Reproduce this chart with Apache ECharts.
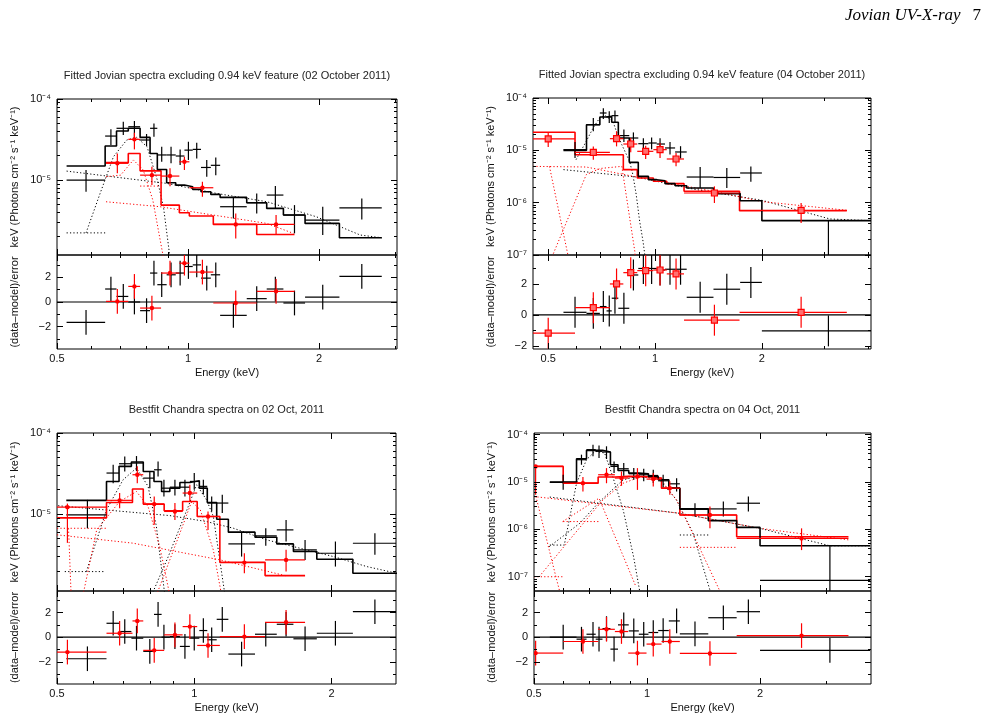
<!DOCTYPE html>
<html>
<head>
<meta charset="utf-8">
<title>Jovian UV-X-ray 7</title>
<script src="https://cdn.jsdelivr.net/npm/echarts@6.0.0/dist/echarts.min.js"></script>
<style>
  html, body { margin: 0; padding: 0; background: #fff; }
  #chart { width: 988px; height: 720px; }
</style>
</head>
<body>
<div id="chart"></div>
<script>
const FONT = '"Liberation Sans", Arial, Helvetica, sans-serif';
const BLACK = '#000000';
const RED = '#ff0000';

// tick positions
const X_MAJOR = [0.5, 1, 2];
const X_MINOR = [0.6, 0.7, 0.8, 0.9, 3, 4];
const R_MAJOR = [-2, 0, 2];
const R_MINOR = [-3, -1, 1, 3];

// ---- panel 1: 02 October 2011, fit excluding 0.94 keV ----
const p1BlackEdges = [0.526, 0.645, 0.685, 0.729, 0.776, 0.818, 0.850, 0.893, 0.937, 0.981, 1.025, 1.071, 1.128, 1.185, 1.364, 1.516, 1.656, 1.857, 2.227, 2.786];
const p1BlackModel = [1.49e-5, 2.63e-5, 4.03e-5, 4.35e-5, 3.36e-5, 2.13e-5, 1.35e-5, 9.27e-6, 8.67e-6, 8.28e-6, 7.67e-6, 7.18e-6, 6.65e-6, 6.11e-6, 5.25e-6, 4.47e-6, 3.7e-6, 2.92e-6, 1.94e-6];
const p1BlackE = [0.583, 0.665, 0.710, 0.753, 0.803, 0.835, 0.870, 0.914, 0.959, 1.002, 1.047, 1.104, 1.158, 1.271, 1.438, 1.587, 1.756, 2.039, 2.507];
const p1BlackFlux = [1.0e-5, 3.49e-5, 4.35e-5, 4.55e-5, 3.12e-5, 4.35e-5, 2.04e-5, 2.04e-5, 1.98e-5, 2.34e-5, 2.39e-5, 1.43e-5, 1.52e-5, 4.69e-6, 5.25e-6, 6.53e-6, 3.7e-6, 3.21e-6, 4.55e-6];
const p1BlackLo = [7.2e-6, 2.7e-5, 3.6e-5, 3.12e-5, 2.63e-5, 3.43e-5, 1.68e-5, 1.61e-5, 1.53e-5, 1.77e-5, 1.85e-5, 1.1e-5, 1.15e-5, 3.36e-6, 3.88e-6, 4.47e-6, 2.2e-6, 2.1e-6, 3.27e-6];
const p1BlackHi = [1.33e-5, 4.22e-5, 5.25e-5, 5.35e-5, 3.7e-5, 5.0e-5, 2.58e-5, 2.58e-5, 2.39e-5, 2.97e-5, 2.89e-5, 1.77e-5, 1.9e-5, 6.22e-6, 6.84e-6, 8.43e-6, 4.91e-6, 4.69e-6, 5.94e-6];
const p1BlackResid = [-1.64, 1.05, 0.45, 0.0, -0.7, 2.34, 1.4, 2.2, 2.34, 2.87, 3.0, 1.93, 2.2, -1.08, 0.27, 1.05, -0.08, 0.4, 2.07];
const p1RedEdges = [0.648, 0.729, 0.776, 0.867, 0.955, 1.007, 1.143, 1.438, 1.756];
const p1RedModel = [1.64e-5, 2.13e-5, 1.3e-5, 4.91e-6, 3.95e-6, 3.6e-6, 2.84e-6, 2.13e-6];
const p1RedE = [0.688, 0.753, 0.826, 0.909, 0.981, 1.079, 1.287, 1.593];
const p1RedFlux = [1.61e-5, 3.18e-5, 1.15e-5, 1.12e-5, 1.68e-5, 8.04e-6, 2.84e-6, 2.84e-6];
const p1RedLo = [1.21e-5, 2.39e-5, 8.67e-6, 8.4e-6, 1.33e-5, 6.22e-6, 1.9e-6, 2.1e-6];
const p1RedHi = [2.13e-5, 3.84e-5, 1.46e-5, 1.4e-5, 1.94e-5, 9.53e-6, 3.88e-6, 3.7e-6];
const p1RedResid = [0.05, 1.26, -0.49, 2.34, 3.14, 2.42, -0.08, 0.86];
const p1BlackCont = [[0.526, 1.29e-5], [0.893, 9.1e-6], [1.163, 6.84e-6], [1.516, 5.41e-6], [1.973, 3.52e-6], [2.485, 2.1e-6], [2.786, 1.94e-6]];
const p1BlackFlat = [[0.526, 2.23e-6], [0.645, 2.23e-6]];
const p1BlackLine = [[0.583, 2.23e-6], [0.628, 6.84e-6], [0.674, 1.94e-5], [0.723, 3.12e-5], [0.762, 3.36e-5], [0.805, 2.58e-5], [0.85, 1.0e-5], [0.878, 4.69e-6], [0.909, 1.1e-6]];
const p1RedCont = [[0.648, 5.4e-6], [0.862, 4.69e-6], [1.143, 3.7e-6], [1.516, 2.92e-6], [1.746, 2.2e-6]];
const p1RedLine = [[0.648, 1.1e-5], [0.70, 1.15e-5], [0.749, 1.77e-5], [0.789, 1.33e-5], [0.83, 5.66e-6], [0.878, 1.1e-6]];
const p1RedFlat = [[0.776, 8.43e-6], [0.862, 8.43e-6]];

// ---- panel 2: 04 October 2011, fit excluding 0.94 keV ----
const p2BlackEdges = [0.552, 0.641, 0.699, 0.730, 0.755, 0.788, 0.846, 0.897, 0.958, 1.011, 1.067, 1.139, 1.228, 1.461, 1.737, 2.0, 4.06];
const p2BlackModel = [1.0e-5, 3.09e-5, 4.34e-5, 4.46e-5, 3.43e-5, 1.72e-5, 5.9e-6, 3.18e-6, 2.75e-6, 2.63e-6, 2.31e-6, 2.11e-6, 1.91e-6, 1.49e-6, 1.09e-6, 4.53e-7];
const p2BlackE = [0.595, 0.670, 0.715, 0.743, 0.771, 0.817, 0.869, 0.927, 0.978, 1.033, 1.102, 1.18, 1.34, 1.593, 1.862, 3.08];
const p2BlackFlux = [1.03e-5, 3.09e-5, 5.17e-5, 4.34e-5, 4.6e-5, 1.91e-5, 1.72e-5, 1.34e-5, 1.38e-5, 1.32e-5, 1.11e-5, 9.3e-6, 3.09e-6, 3.03e-6, 3.69e-6, 5e-8];
const p2BlackLo = [7.1e-6, 2.31e-5, 3.97e-5, 3.33e-5, 3.4e-5, 1.45e-5, 1.3e-5, 1.0e-5, 1.05e-5, 1.0e-5, 8.3e-6, 7.0e-6, 1.9e-6, 1.9e-6, 2.5e-6, 1e-9];
const p2BlackHi = [1.45e-5, 4.15e-5, 6.4e-5, 5.56e-5, 5.8e-5, 2.5e-5, 2.2e-5, 1.7e-5, 1.75e-5, 1.7e-5, 1.45e-5, 1.2e-5, 4.8e-6, 4.6e-6, 4.9e-6, 4.6e-7];
const p2BlackResid = [0.17, 0.1, 0.54, 0.26, 1.08, 0.43, 2.58, 3.0, 3.0, 2.9, 2.95, 2.95, 1.14, 1.66, 2.1, -1.03];
const p2RedEdges = [0.453, 0.595, 0.746, 0.814, 0.891, 0.989, 1.079, 1.207, 1.73, 3.47];
const p2RedModel = [2.21e-5, 8.26e-6, 8.26e-6, 4.27e-6, 2.96e-6, 2.56e-6, 2.31e-6, 1.65e-6, 7.03e-7];
const p2RedE = [0.5, 0.67, 0.779, 0.854, 0.941, 1.033, 1.146, 1.47, 2.58];
const p2RedFlux = [1.65e-5, 9.16e-6, 1.67e-5, 1.32e-5, 9.57e-6, 1.03e-5, 6.83e-6, 1.53e-6, 7.14e-7];
const p2RedLo = [1.16e-5, 6.64e-6, 1.19e-5, 9.16e-6, 6.82e-6, 7.15e-6, 4.94e-6, 9.86e-7, 4.08e-7];
const p2RedHi = [2.14e-5, 1.19e-5, 2.31e-5, 1.72e-5, 1.23e-5, 1.38e-5, 8.9e-6, 2.05e-6, 9.86e-7];
const p2RedResid = [-1.18, 0.47, 2.0, 2.73, 2.86, 2.9, 2.65, -0.34, 0.17];
const p2BlackCont = [[0.552, 4.28e-6], [0.888, 3.09e-6], [1.28, 1.82e-6], [2.0, 1.11e-6], [3.11, 4.88e-7], [4.06, 4.53e-7]];
const p2BlackLine = [[0.599, 6.64e-6], [0.64, 1.49e-5], [0.669, 2.67e-5], [0.698, 4.15e-5], [0.722, 4.67e-5], [0.761, 3.58e-5], [0.778, 2.31e-5], [0.806, 1.28e-5], [0.848, 6.16e-6], [0.866, 3.43e-6], [0.885, 1.42e-6], [0.905, 4.4e-7], [0.925, 1.82e-7], [0.94, 8e-8]];
const p2RedCont = [[0.453, 4.94e-6], [0.64, 4.8e-6], [0.888, 3.09e-6], [1.461, 1.65e-6], [2.0, 1.05e-6], [3.47, 7.15e-7]];
const p2RedSteep = [[0.504, 4.94e-6], [0.568, 1.01e-7], [0.576, 8e-8]];
const p2RedLine = [[0.51, 8e-8], [0.515, 1.0e-7], [0.64, 3.43e-6], [0.70, 4.5e-6], [0.806, 4.94e-6], [0.877, 1.17e-7], [0.88, 8e-8]];

// ---- panel 3: best fit 02 Oct 2011 ----
const p3BlackEdges = [0.524, 0.642, 0.684, 0.728, 0.773, 0.816, 0.848, 0.884, 0.930, 0.978, 1.026, 1.068, 1.12, 1.188, 1.359, 1.517, 1.65, 1.857, 2.228, 2.784];
const p3BlackModel = [1.48e-5, 2.53e-5, 3.88e-5, 4.39e-5, 3.36e-5, 2.53e-5, 1.9e-5, 2.09e-5, 2.46e-5, 2.58e-5, 2.09e-5, 1.39e-5, 8.67e-6, 6.0e-6, 5.2e-6, 4.3e-6, 3.46e-6, 2.78e-6, 1.87e-6];
const p3BlackE = [0.583, 0.664, 0.704, 0.747, 0.799, 0.833, 0.858, 0.907, 0.954, 1.0, 1.047, 1.092, 1.152, 1.27, 1.435, 1.59, 1.75, 2.04, 2.49];
const p3BlackFlux = [9.8e-6, 3.21e-5, 4.18e-5, 4.26e-5, 2.78e-5, 3.52e-5, 2.09e-5, 2.15e-5, 2.15e-5, 2.53e-5, 2.2e-5, 1.37e-5, 1.37e-5, 4.3e-6, 5.4e-6, 6.4e-6, 3.63e-6, 3.3e-6, 4.38e-6];
const p3BlackLo = [6.7e-6, 2.41e-5, 3.36e-5, 3.4e-5, 2.09e-5, 2.92e-5, 1.65e-5, 1.7e-5, 1.65e-5, 2.0e-5, 1.75e-5, 1.08e-5, 1.03e-5, 3.0e-6, 4.07e-6, 4.6e-6, 2.73e-6, 2.26e-6, 3.15e-6];
const p3BlackHi = [1.5e-5, 4.06e-5, 5.15e-5, 5.2e-5, 3.36e-5, 4.47e-5, 2.65e-5, 2.65e-5, 2.65e-5, 3.21e-5, 2.65e-5, 1.65e-5, 1.73e-5, 6.1e-6, 6.7e-6, 8.5e-6, 4.82e-6, 4.6e-6, 5.8e-6];
const p3BlackResid = [-1.75, 1.13, 0.46, -0.08, -1.15, 1.85, 0.0, 0.05, -0.75, -0.08, 0.54, -0.21, 1.45, -1.37, 0.24, 1.05, -0.13, 0.32, 2.07];
const p3RedEdges = [0.5, 0.642, 0.732, 0.773, 0.859, 0.943, 1.015, 1.138, 1.43, 1.75];
const p3RedModel = [9.0e-6, 1.39e-5, 2.04e-5, 1.33e-5, 1.1e-5, 1.43e-5, 9.36e-6, 2.55e-6, 1.75e-6];
const p3RedE = [0.527, 0.686, 0.75, 0.817, 0.907, 0.978, 1.072, 1.288, 1.59];
const p3RedFlux = [1.22e-5, 1.48e-5, 3.06e-5, 1.33e-5, 1.08e-5, 1.82e-5, 9.36e-6, 2.53e-6, 2.73e-6];
const p3RedLo = [4.43e-6, 1.18e-5, 2.4e-5, 7.4e-6, 8.5e-6, 1.43e-5, 6.4e-6, 1.87e-6, 1.96e-6];
const p3RedHi = [1.35e-5, 1.82e-5, 3.9e-5, 1.65e-5, 1.37e-5, 2.3e-5, 1.08e-5, 3.3e-6, 3.63e-6];
const p3RedResid = [-1.21, 0.32, 1.32, -1.07, 0.19, 0.86, -0.67, 0.05, 1.21];
const p3BlackCont = [[0.503, 1.27e-5], [0.884, 9.6e-6], [1.064, 8.1e-6], [1.218, 6.71e-6], [1.442, 4.82e-6], [1.648, 3.99e-6], [2.02, 3.0e-6], [2.39, 2.26e-6], [2.78, 1.87e-6]];
const p3BlackFlat = [[0.52, 1.96e-6], [0.637, 1.96e-6]];
const p3BlackLine1 = [[0.58, 1.96e-6], [0.642, 1.13e-5], [0.698, 2.65e-5], [0.747, 3.7e-5], [0.792, 2.2e-5], [0.826, 7.05e-6], [0.862, 1.0e-6]];
const p3BlackLine2 = [[0.806, 1.0e-6], [0.877, 3.0e-6], [0.97, 1.24e-5], [1.012, 2.3e-5], [1.064, 1.5e-5], [1.101, 9.4e-6], [1.168, 1.0e-6]];
const p3RedCont = [[0.5, 5.56e-6], [0.734, 4.39e-6], [1.14, 2.73e-6], [1.595, 1.73e-6]];
const p3RedFlat = [[0.5, 6.7e-6], [0.64, 6.7e-6]];
const p3RedSteep = [[0.53, 6.7e-6], [0.537, 1.0e-6]];
const p3RedLine1 = [[0.57, 1.0e-6], [0.611, 6.41e-6], [0.686, 1.43e-5], [0.747, 1.9e-5], [0.792, 1.24e-5], [0.84, 3.99e-6], [0.884, 1.0e-6]];
const p3RedLine2 = [[0.826, 1.0e-6], [0.93, 5.82e-6], [0.987, 1.43e-5], [1.031, 1.13e-5], [1.101, 3.63e-6], [1.148, 1.0e-6]];

// ---- panel 4: best fit 04 Oct 2011 ----
const p4BlackEdges = [0.551, 0.649, 0.690, 0.730, 0.761, 0.799, 0.837, 0.894, 0.951, 1.009, 1.071, 1.143, 1.223, 1.456, 1.733, 2.0, 3.93];
const p4BlackModel = [9.9e-6, 3.1e-5, 4.65e-5, 4.65e-5, 4.29e-5, 2.31e-5, 1.75e-5, 1.54e-5, 1.49e-5, 1.31e-5, 1.11e-5, 7.4e-6, 2.7e-6, 1.53e-6, 1.1e-6, 4.5e-7];
const p4BlackE = [0.598, 0.669, 0.718, 0.745, 0.78, 0.817, 0.867, 0.922, 0.98, 1.039, 1.104, 1.199, 1.342, 1.597, 1.862, 3.07];
const p4BlackFlux = [9.8e-6, 2.95e-5, 4.81e-5, 4.43e-5, 4.29e-5, 2.13e-5, 1.9e-5, 1.49e-5, 1.42e-5, 1.37e-5, 1.06e-5, 9.14e-6, 2.65e-6, 2.7e-6, 3.56e-6, 8.4e-8];
const p4BlackLo = [6.82e-6, 2.31e-5, 3.47e-5, 3.2e-5, 3.05e-5, 1.54e-5, 1.35e-5, 1.11e-5, 1.03e-5, 9.5e-6, 7.76e-6, 6.3e-6, 1.86e-6, 1.86e-6, 2.37e-6, 1e-9];
const p4BlackHi = [1.42e-5, 3.77e-5, 6.13e-5, 5.85e-5, 5.66e-5, 2.72e-5, 2.51e-5, 1.96e-5, 1.9e-5, 1.81e-5, 1.42e-5, 1.2e-5, 3.56e-6, 3.86e-6, 4.93e-6, 4.5e-7];
const p4BlackResid = [0.0, -0.16, 0.24, -0.16, 0.7, -0.97, 1.0, 0.51, 0.24, 0.38, 0.54, 1.32, 0.27, 1.58, 2.07, -1.07];
const p4RedEdges = [0.5, 0.598, 0.741, 0.821, 0.891, 0.997, 1.093, 1.223, 1.733, 3.44];
const p4RedModel = [2.13e-5, 9.45e-6, 1.27e-5, 1.31e-5, 1.29e-5, 1.21e-5, 7.4e-6, 2.01e-6, 7.0e-7];
const p4RedE = [0.505, 0.675, 0.78, 0.855, 0.943, 1.039, 1.15, 1.471, 2.58];
const p4RedFlux = [2.13e-5, 9.45e-6, 1.42e-5, 1.21e-5, 1.31e-5, 1.15e-5, 7.4e-6, 2.01e-6, 6.45e-7];
const p4RedLo = [5.35e-6, 6.3e-6, 9.4e-6, 8.3e-6, 6.8e-6, 8.0e-6, 5.35e-6, 1.05e-6, 3.65e-7];
const p4RedHi = [2.25e-5, 1.27e-5, 1.96e-5, 1.67e-5, 1.96e-5, 1.54e-5, 1.03e-5, 3.02e-6, 1.05e-6];
const p4RedResid = [-1.29, -0.35, 0.64, 0.46, -1.29, -0.56, -0.35, -1.32, 0.13];
const p4BlackCont = [[0.551, 4.8e-6], [1.222, 2.18e-6], [2.0, 1.05e-6], [3.07, 4.5e-7], [3.93, 4.5e-7]];
const p4BlackFlat = [[1.223, 7.6e-7], [1.471, 7.6e-7]];
const p4BlackLine1 = [[0.551, 4.66e-7], [0.602, 4.66e-7], [0.649, 9.4e-6], [0.690, 2.95e-5], [0.727, 4.44e-5], [0.771, 4.09e-5], [0.81, 1.31e-5], [0.864, 2.57e-6], [0.921, 2.63e-7], [0.956, 5e-8]];
const p4BlackLine2 = [[0.549, 4.3e-7], [0.662, 1.34e-6], [0.748, 3.86e-6], [0.864, 1.11e-5], [0.955, 1.35e-5], [1.081, 1.11e-5], [1.198, 4.19e-6], [1.327, 8.2e-7], [1.471, 5.2e-8]];
const p4RedCont = [[0.5, 4.93e-6], [1.222, 2.18e-6], [2.0, 1.05e-6], [3.44, 6.0e-7]];
const p4RedSteep = [[0.506, 4.93e-6], [0.572, 9.9e-8], [0.585, 5e-8]];
const p4RedLine1 = [[0.596, 1.46e-6], [0.745, 4.54e-6], [0.935, 6.1e-8]];
const p4RedLine2 = [[0.516, 1e-7], [0.621, 5.94e-7], [0.763, 4.19e-6], [0.864, 9.4e-6], [0.955, 1.26e-5], [1.081, 1.2e-5], [1.198, 4.19e-6], [1.35, 5.94e-7], [1.563, 5e-8]];
const p4RedFlat1 = [[0.5, 1e-7], [0.598, 1e-7]];
const p4RedFlat2 = [[0.598, 1.46e-6], [0.745, 1.46e-6]];
const p4RedFlat3 = [[1.223, 4.17e-7], [1.733, 4.17e-7]];

const panels = [
  {
    title: 'Fitted Jovian spectra excluding 0.94 keV feature (02 October 2011)',
    box: { left: 57, top: 99, width: 340, specH: 156, resH: 94 },
    x: [0.5, 3.02], y: [1.19e-6, 1e-4], r: [-3.8, 3.8], redMarker: 'circle',
    black: { edges: p1BlackEdges, model: p1BlackModel, e: p1BlackE, flux: p1BlackFlux, lo: p1BlackLo, hi: p1BlackHi, resid: p1BlackResid },
    red: { edges: p1RedEdges, model: p1RedModel, e: p1RedE, flux: p1RedFlux, lo: p1RedLo, hi: p1RedHi, resid: p1RedResid },
    comps: [[p1BlackCont, BLACK], [p1BlackFlat, BLACK], [p1BlackLine, BLACK], [p1RedCont, RED], [p1RedLine, RED], [p1RedFlat, RED]]
  },
  {
    title: 'Fitted Jovian spectra excluding 0.94 keV feature (04 October 2011)',
    box: { left: 533, top: 98, width: 338, specH: 157, resH: 94 },
    x: [0.453, 4.06], y: [1e-7, 1e-4], r: [-2.2, 3.87], redMarker: 'square',
    black: { edges: p2BlackEdges, model: p2BlackModel, e: p2BlackE, flux: p2BlackFlux, lo: p2BlackLo, hi: p2BlackHi, resid: p2BlackResid },
    red: { edges: p2RedEdges, model: p2RedModel, e: p2RedE, flux: p2RedFlux, lo: p2RedLo, hi: p2RedHi, resid: p2RedResid },
    comps: [[p2BlackCont, BLACK], [p2BlackLine, BLACK], [p2RedCont, RED], [p2RedSteep, RED], [p2RedLine, RED]]
  },
  {
    title: 'Bestfit Chandra spectra on 02 Oct, 2011',
    box: { left: 57, top: 433, width: 339, specH: 158, resH: 93 },
    x: [0.5, 2.77], y: [1.13e-6, 1e-4], r: [-3.8, 3.75], redMarker: 'circle',
    black: { edges: p3BlackEdges, model: p3BlackModel, e: p3BlackE, flux: p3BlackFlux, lo: p3BlackLo, hi: p3BlackHi, resid: p3BlackResid },
    red: { edges: p3RedEdges, model: p3RedModel, e: p3RedE, flux: p3RedFlux, lo: p3RedLo, hi: p3RedHi, resid: p3RedResid },
    comps: [[p3BlackCont, BLACK], [p3BlackFlat, BLACK], [p3BlackLine1, BLACK], [p3BlackLine2, BLACK], [p3RedCont, RED], [p3RedFlat, RED], [p3RedSteep, RED], [p3RedLine1, RED], [p3RedLine2, RED]]
  },
  {
    title: 'Bestfit Chandra spectra on 04 Oct, 2011',
    box: { left: 534, top: 433, width: 337, specH: 158, resH: 93 },
    x: [0.5, 3.95], y: [5e-8, 1.08e-4], r: [-3.8, 3.75], redMarker: 'circle',
    black: { edges: p4BlackEdges, model: p4BlackModel, e: p4BlackE, flux: p4BlackFlux, lo: p4BlackLo, hi: p4BlackHi, resid: p4BlackResid },
    red: { edges: p4RedEdges, model: p4RedModel, e: p4RedE, flux: p4RedFlux, lo: p4RedLo, hi: p4RedHi, resid: p4RedResid },
    comps: [[p4BlackCont, BLACK], [p4BlackFlat, BLACK], [p4BlackLine1, BLACK], [p4BlackLine2, BLACK], [p4RedCont, RED], [p4RedSteep, RED], [p4RedLine1, RED], [p4RedLine2, RED], [p4RedFlat1, RED], [p4RedFlat2, RED], [p4RedFlat3, RED]]
  }
];

const SUP = { '-': '\u207B', '0': '\u2070', '1': '\u00B9', '2': '\u00B2', '3': '\u00B3', '4': '\u2074', '5': '\u2075', '6': '\u2076', '7': '\u2077', '8': '\u2078', '9': '\u2079' };
function powLabel(v) {
  const e = Math.round(Math.log10(v));
  return '10' + String(e).split('').map(function (c) { return SUP[c]; }).join('');
}
function decadesIn(r) {
  const out = [];
  for (let d = Math.ceil(Math.log10(r[0]) - 1e-9); d <= Math.floor(Math.log10(r[1]) + 1e-9); d++) out.push(parseFloat('1e' + d));
  return out;
}
function logMinorsIn(r) {
  const out = [];
  for (let d = Math.floor(Math.log10(r[0])); d < Math.ceil(Math.log10(r[1])); d++) {
    for (let m = 2; m <= 9; m++) {
      const v = parseFloat(m + 'e' + d);
      if (v > r[0] && v < r[1]) out.push(v);
    }
  }
  return out;
}

const grids = [], xAxes = [], yAxes = [], series = [];

function addAxis(list, o) {
  const ax = {
    type: o.type, gridIndex: o.grid, position: o.pos, min: o.range[0], max: o.range[1],
    axisLine: { show: false, onZero: false },
    axisTick: { show: true, inside: true, length: o.len, customValues: o.ticks, lineStyle: { color: '#000', width: 1 } },
    axisLabel: { show: false },
    splitLine: { show: false },
    minorTick: { show: false },
    z: 5
  };
  if (o.type === 'log') ax.logBase = o.base;
  if (o.labels) {
    ax.axisLabel = { show: true, customValues: o.labels, formatter: o.fmt, color: '#111', fontSize: 11, fontFamily: FONT, margin: o.margin };
  }
  if (o.name) {
    ax.name = o.name;
    ax.nameLocation = 'middle';
    ax.nameGap = o.nameGap;
    ax.nameRotate = o.nameRotate;
    ax.nameTextStyle = { color: '#111', fontSize: 11, fontFamily: FONT };
  }
  list.push(ax);
  return list.length - 1;
}

function stepPoints(edges, vals) {
  const pts = [];
  vals.forEach(function (v, i) { pts.push([edges[i], v], [edges[i + 1], v]); });
  return pts;
}

function errorBars(color, marker) {
  return function (params, api) {
    const x = api.value(0), y = api.value(3);
    const p = api.coord([x, y]);
    const l = api.coord([api.value(1), y]);
    const r = api.coord([api.value(2), y]);
    const lo = api.coord([x, api.value(4)]);
    const hi = api.coord([x, api.value(5)]);
    const st = { stroke: color, lineWidth: 1.2 };
    const children = [
      { type: 'line', shape: { x1: l[0], y1: p[1], x2: r[0], y2: p[1] }, style: st },
      { type: 'line', shape: { x1: p[0], y1: lo[1], x2: p[0], y2: hi[1] }, style: st }
    ];
    if (marker === 'circle') {
      children.push({ type: 'circle', shape: { cx: p[0], cy: p[1], r: 2.2 }, style: { fill: color } });
    } else if (marker === 'square') {
      children.push({ type: 'rect', shape: { x: p[0] - 3, y: p[1] - 3, width: 6, height: 6 }, style: { fill: '#ff7070', stroke: color, lineWidth: 1.2 } });
    }
    return { type: 'group', children: children };
  };
}

function errSeries(xi, yi, rows, color, marker) {
  return {
    type: 'custom', xAxisIndex: xi, yAxisIndex: yi, data: rows, clip: true, z: 4, silent: true, animation: false,
    encode: { x: [0, 1, 2], y: [3, 4, 5] },
    renderItem: errorBars(color, marker)
  };
}

function lineSeries(xi, yi, pts, color, width, dash, z) {
  return {
    type: 'line', xAxisIndex: xi, yAxisIndex: yi, data: pts, showSymbol: false, symbol: 'none',
    clip: true, silent: true, animation: false, z: z,
    lineStyle: { color: color, width: width, type: dash || 'solid' }
  };
}

const xFmt = function (v) { return String(Math.round(v * 10) / 10); };
const rFmt = function (v) { return v < 0 ? '\u2212' + Math.abs(v) : String(v); };
const frame = { show: true, borderColor: '#000', borderWidth: 1, backgroundColor: 'transparent' };

const graphics = [
  { type: 'text', x: 845, y: 16, style: { text: 'Jovian UV-X-ray', font: 'italic 17px "Liberation Serif", "DejaVu Serif", serif', fill: '#000', textAlign: 'left', align: 'left', textVerticalAlign: 'middle', verticalAlign: 'middle' } },
  { type: 'text', x: 981, y: 16, style: { text: '7', font: '17px "Liberation Serif", "DejaVu Serif", serif', fill: '#000', textAlign: 'right', align: 'right', textVerticalAlign: 'middle', verticalAlign: 'middle' } }
];

panels.forEach(function (p) {
  const b = p.box;
  const gs = grids.length, gr = gs + 1;
  grids.push(Object.assign({ left: b.left, top: b.top, width: b.width, height: b.specH }, frame));
  grids.push(Object.assign({ left: b.left, top: b.top + b.specH, width: b.width, height: b.resH }, frame));

  // spectrum panel axes
  const sx = addAxis(xAxes, { type: 'log', base: 2, grid: gs, pos: 'bottom', range: p.x, ticks: X_MAJOR, len: 6 });
  addAxis(xAxes, { type: 'log', base: 2, grid: gs, pos: 'bottom', range: p.x, ticks: X_MINOR, len: 3 });
  addAxis(xAxes, { type: 'log', base: 2, grid: gs, pos: 'top', range: p.x, ticks: X_MAJOR, len: 6 });
  addAxis(xAxes, { type: 'log', base: 2, grid: gs, pos: 'top', range: p.x, ticks: X_MINOR, len: 3 });
  const dec = decadesIn(p.y), minors = logMinorsIn(p.y);
  const sy = addAxis(yAxes, { type: 'log', base: 10, grid: gs, pos: 'left', range: p.y, ticks: dec, len: 6, labels: dec, fmt: powLabel, margin: 6,
    name: 'keV (Photons cm\u207B\u00B2 s\u207B\u00B9 keV\u207B\u00B9)', nameGap: 37, nameRotate: 90 });
  addAxis(yAxes, { type: 'log', base: 10, grid: gs, pos: 'left', range: p.y, ticks: minors, len: 3 });
  addAxis(yAxes, { type: 'log', base: 10, grid: gs, pos: 'right', range: p.y, ticks: dec, len: 6 });
  addAxis(yAxes, { type: 'log', base: 10, grid: gs, pos: 'right', range: p.y, ticks: minors, len: 3 });

  // residual panel axes
  const rx = addAxis(xAxes, { type: 'log', base: 2, grid: gr, pos: 'bottom', range: p.x, ticks: X_MAJOR, len: 6, labels: X_MAJOR, fmt: xFmt, margin: 4,
    name: 'Energy (keV)', nameGap: 18, nameRotate: 0 });
  addAxis(xAxes, { type: 'log', base: 2, grid: gr, pos: 'bottom', range: p.x, ticks: X_MINOR, len: 3 });
  addAxis(xAxes, { type: 'log', base: 2, grid: gr, pos: 'top', range: p.x, ticks: X_MAJOR, len: 6 });
  addAxis(xAxes, { type: 'log', base: 2, grid: gr, pos: 'top', range: p.x, ticks: X_MINOR, len: 3 });
  const ry = addAxis(yAxes, { type: 'value', grid: gr, pos: 'left', range: p.r, ticks: R_MAJOR, len: 6, labels: R_MAJOR, fmt: rFmt, margin: 6,
    name: '(data\u2013model)/error', nameGap: 37, nameRotate: 90 });
  addAxis(yAxes, { type: 'value', grid: gr, pos: 'left', range: p.r, ticks: R_MINOR, len: 3 });
  addAxis(yAxes, { type: 'value', grid: gr, pos: 'right', range: p.r, ticks: R_MAJOR, len: 6 });
  addAxis(yAxes, { type: 'value', grid: gr, pos: 'right', range: p.r, ticks: R_MINOR, len: 3 });

  // model components (dotted)
  p.comps.forEach(function (c) {
    series.push(lineSeries(sx, sy, c[0], c[1], 1, [1.2, 2.2], 2));
  });
  // folded model histograms
  series.push(lineSeries(sx, sy, stepPoints(p.red.edges, p.red.model), RED, 1.6, 'solid', 3));
  series.push(lineSeries(sx, sy, stepPoints(p.black.edges, p.black.model), BLACK, 1.6, 'solid', 3));

  // data with error bars
  [['black', BLACK, null], ['red', RED, p.redMarker]].forEach(function (d) {
    const s = p[d[0]];
    const specRows = s.e.map(function (e, i) { return [e, s.edges[i], s.edges[i + 1], s.flux[i], s.lo[i], s.hi[i]]; });
    const resRows = s.e.map(function (e, i) { return [e, s.edges[i], s.edges[i + 1], s.resid[i], s.resid[i] - 1, s.resid[i] + 1]; });
    series.push(errSeries(sx, sy, specRows, d[1], d[2]));
    series.push(errSeries(rx, ry, resRows, d[1], d[2]));
  });

  // zero line of the residuals
  series.push(lineSeries(rx, ry, [[p.x[0], 0], [p.x[1], 0]], BLACK, 1.2, 'solid', 3));

  graphics.push({ type: 'text', x: b.left + b.width / 2, y: b.top - 23,
    style: { text: p.title, font: '11px ' + FONT, fill: '#222', textAlign: 'center', align: 'center', textVerticalAlign: 'middle', verticalAlign: 'middle' } });
});

const chart = echarts.init(document.getElementById('chart'), null, { renderer: 'canvas' });
chart.setOption({
  backgroundColor: '#ffffff',
  animation: false,
  textStyle: { fontFamily: FONT },
  grid: grids,
  xAxis: xAxes,
  yAxis: yAxes,
  series: series,
  graphic: graphics
});
</script>
</body>
</html>
